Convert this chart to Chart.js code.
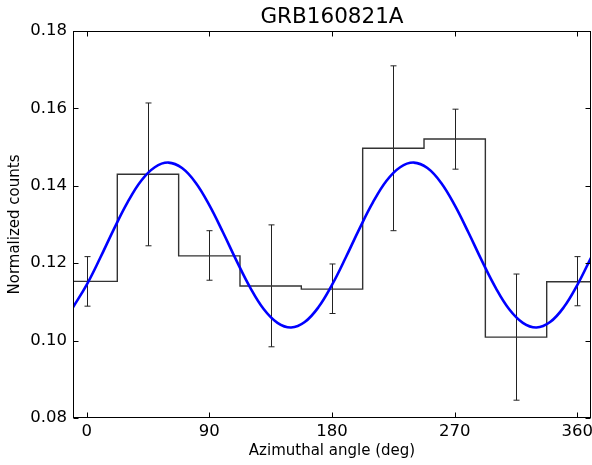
<!DOCTYPE html>
<html>
<head>
<meta charset="utf-8">
<script src="https://cdn.jsdelivr.net/npm/chart.js@4/dist/chart.umd.min.js"></script>
<style>
  html, body { margin: 0; padding: 0; background: #fff; }
  #wrap { width: 592px; height: 465px; }
</style>
</head>
<body>
<div id="wrap"><canvas id="chartGrb"></canvas></div>
<script>
// histogram bins (45 deg wide, centred on 0..360)
var binEdges = [-22.5, 22.5, 67.5, 112.5, 157.5, 202.5, 247.5, 292.5, 337.5, 382.5];
var binCenters = [0, 45, 90, 135, 180, 225, 270, 315, 360];
var counts = [0.1153, 0.1430, 0.1219, 0.1141, 0.1133, 0.1497, 0.1521, 0.1009, 0.1152];
var errLow = [0.1089, 0.1245, 0.1156, 0.0984, 0.1070, 0.1284, 0.1443, 0.0846, 0.1090];
var errHigh = [0.1217, 0.1614, 0.1284, 0.1299, 0.1198, 0.1710, 0.1598, 0.1172, 0.1217];

// fitted modulation curve, every 10 deg
var fitAngles = [-10, 0, 10, 20, 30, 40, 50, 60, 70, 80, 90, 100, 110, 120, 130, 140, 150, 160, 170,
    180, 190, 200, 210, 220, 230, 240, 250, 260, 270, 280, 290, 300, 310, 320, 330, 340, 350, 360, 370];
var fitValues = [0.1086, 0.1144, 0.1214, 0.1288, 0.1357, 0.1413, 0.1448, 0.1460, 0.1446, 0.1408,
    0.1350, 0.1280, 0.1206, 0.1137, 0.1081, 0.1046, 0.1034, 0.1048, 0.1086,
    0.1144, 0.1214, 0.1288, 0.1357, 0.1413, 0.1448, 0.1460, 0.1446, 0.1408,
    0.1350, 0.1280, 0.1206, 0.1137, 0.1081, 0.1046, 0.1034, 0.1048, 0.1086, 0.1144, 0.1214];

var xTicks = [0, 90, 180, 270, 360];
var yTicks = [0.08, 0.10, 0.12, 0.14, 0.16, 0.18];

var fitData = [];
for (var i = 0; i < fitAngles.length; i++) {
    fitData.push({x: fitAngles[i], y: fitValues[i]});
}
var stepData = [];
for (var i = 0; i < counts.length; i++) {
    stepData.push({x: binEdges[i], y: counts[i]});
}
stepData.push({x: binEdges[binEdges.length - 1], y: counts[counts.length - 1]});

var police = "'DejaVu Sans', sans-serif";

// error bars, drawn under the lines
var errorBars = {
    id: 'errorBars',
    beforeDatasetsDraw: function (chart) {
        var ctx = chart.ctx, xs = chart.scales.x, ys = chart.scales.y, a = chart.chartArea;
        ctx.save();
        ctx.beginPath();
        ctx.rect(a.left, a.top, a.right - a.left, a.bottom - a.top);
        ctx.clip();
        ctx.strokeStyle = '#222';
        ctx.lineWidth = 1;
        for (var i = 0; i < binCenters.length; i++) {
            var px = Math.round(xs.getPixelForValue(binCenters[i])) + 0.5;
            var y1 = ys.getPixelForValue(errHigh[i]);
            var y2 = ys.getPixelForValue(errLow[i]);
            ctx.beginPath();
            ctx.moveTo(px, y1); ctx.lineTo(px, y2);
            ctx.moveTo(px - 3, y1); ctx.lineTo(px + 3, y1);
            ctx.moveTo(px - 3, y2); ctx.lineTo(px + 3, y2);
            ctx.stroke();
        }
        ctx.restore();
    }
};

// matplotlib style frame with inward ticks
var cadre = {
    id: 'cadre',
    afterDraw: function (chart) {
        var ctx = chart.ctx, xs = chart.scales.x, ys = chart.scales.y, a = chart.chartArea;
        var l = Math.round(a.left) + 0.5, r = Math.round(a.right) - 0.5;
        var t = Math.round(a.top) + 0.5, b = Math.round(a.bottom) - 0.5;
        ctx.save();
        ctx.strokeStyle = '#000';
        ctx.lineWidth = 1;
        ctx.strokeRect(l, t, r - l, b - t);
        ctx.beginPath();
        xTicks.forEach(function (v) {
            var px = Math.round(xs.getPixelForValue(v)) + 0.5;
            ctx.moveTo(px, b); ctx.lineTo(px, b - 5);
            ctx.moveTo(px, t); ctx.lineTo(px, t + 5);
        });
        yTicks.forEach(function (v) {
            var py = Math.round(ys.getPixelForValue(v)) + 0.5;
            ctx.moveTo(l, py); ctx.lineTo(l + 5, py);
            ctx.moveTo(r, py); ctx.lineTo(r - 5, py);
        });
        ctx.stroke();
        ctx.restore();
    }
};

var ctx = document.getElementById('chartGrb').getContext('2d');
var chart = new Chart(ctx, {
    type: 'line',
    data: {
        datasets: [{
            label: 'fit',
            data: fitData,
            borderColor: '#0000ff',
            borderWidth: 2.6,
            pointRadius: 0,
            tension: 0.4,
            fill: false
        }, {
            label: 'counts',
            data: stepData,
            stepped: 'before',
            borderColor: '#333333',
            borderWidth: 1.4,
            pointRadius: 0,
            fill: false
        }]
    },
    options: {
        responsive: true,
        maintainAspectRatio: false,
        animation: false,
        events: [],
        layout: { padding: { left: 0, right: 1, top: 0, bottom: 0 } },
        plugins: {
            legend: { display: false },
            tooltip: { enabled: false },
            title: {
                display: true,
                text: 'GRB160821A',
                color: '#000',
                fullSize: false,
                font: { family: police, size: 21.5, weight: 'normal' },
                padding: { top: 5, bottom: 0.2 }
            }
        },
        scales: {
            x: {
                type: 'linear',
                min: -10,
                max: 370,
                afterBuildTicks: function (scale) {
                    scale.ticks = xTicks.map(function (v) { return {value: v}; });
                },
                afterFit: function (scale) {
                    scale.height = 47;
                    scale.paddingLeft = 0;
                    scale.paddingRight = 0;
                },
                grid: { display: false, drawTicks: false },
                border: { display: false },
                ticks: {
                    color: '#000',
                    padding: 4,
                    maxRotation: 0,
                    font: { family: police, size: 16.5 }
                },
                title: {
                    display: true,
                    text: 'Azimuthal angle (deg)',
                    color: '#000',
                    font: { family: police, size: 15 },
                    padding: { top: 0, bottom: 5 }
                }
            },
            y: {
                type: 'linear',
                min: 0.08,
                max: 0.18,
                afterBuildTicks: function (scale) {
                    scale.ticks = yTicks.map(function (v) { return {value: v}; });
                },
                afterFit: function (scale) { scale.width = 73; },
                grid: { display: false, drawTicks: false },
                border: { display: false },
                ticks: {
                    color: '#000',
                    padding: 6,
                    font: { family: police, size: 16.5 },
                    callback: function (v) { return Number(v).toFixed(2); }
                },
                title: {
                    display: true,
                    text: 'Normalized counts',
                    color: '#000',
                    font: { family: police, size: 15 },
                    padding: { top: 6, bottom: 0 }
                }
            }
        }
    },
    plugins: [errorBars, cadre]
});
</script>
</body>
</html>
